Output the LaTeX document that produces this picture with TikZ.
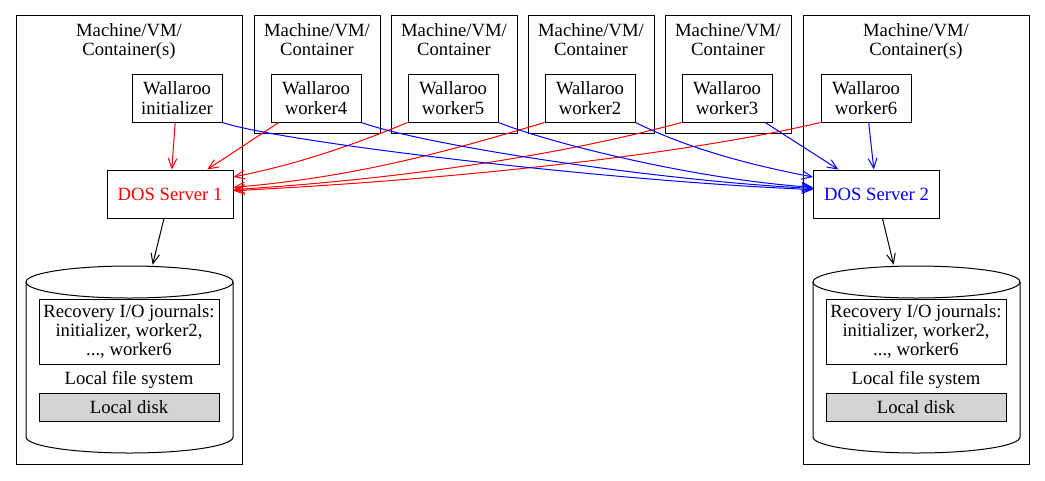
\documentclass[tikz,border=0pt]{standalone}
\usepackage{fontspec}
\setmainfont{Liberation Serif}
\usetikzlibrary{arrows.meta,positioning}

\begin{document}
\begin{tikzpicture}[
x=0.75pt, y=-0.75pt,
every node/.style={font=\fontsize{14}{14.5}\selectfont, align=center},
bigmachine/.style={draw, line width=0.75pt, minimum width=169.5pt, minimum height=336.75pt},
machine/.style={draw, line width=0.75pt, minimum width=94.5pt, minimum height=88.5pt},
worker/.style={draw, line width=0.75pt, minimum width=67.5pt, minimum height=36pt, inner sep=2pt},
server/.style={draw, line width=0.75pt, minimum width=94.5pt, minimum height=36pt},
store/.style={minimum width=155.25pt, minimum height=141pt, inner sep=0pt},
journal/.style={draw, line width=0.75pt, minimum width=135pt, minimum height=48.75pt, inner sep=1pt},
disk/.style={draw, line width=0.75pt, fill=black!17, minimum width=135pt, minimum height=21pt, inner sep=1pt},
link/.style={line width=0.75pt, -{Straight Barb[length=7.5pt,width=6.5pt]}}
]
\useasboundingbox (0,0) rectangle (1045,480);
%Machines
\node[bigmachine] (mach1) at (129,239.5) {};
\node[machine]    (mach4) at (317,74) {};
\node[machine]    (mach5) at (454,74) {};
\node[machine]    (mach2) at (591,74) {};
\node[machine]    (mach3) at (728,74) {};
\node[bigmachine] (mach6) at (916,239.5) {};
\node (lab1) [below=3pt of mach1.north] {Machine/VM/\\Container(s)};
\node (lab4) [below=3pt of mach4.north] {Machine/VM/\\Container};
\node (lab5) [below=3pt of mach5.north] {Machine/VM/\\Container};
\node (lab2) [below=3pt of mach2.north] {Machine/VM/\\Container};
\node (lab3) [below=3pt of mach3.north] {Machine/VM/\\Container};
\node (lab6) [below=3pt of mach6.north] {Machine/VM/\\Container(s)};
%Workers
\node[worker] (init) at (177,98) {Wallaroo\\initializer};
\node[worker] (w4)   at (316,98) {Wallaroo\\worker4};
\node[worker] (w5)   at (453,98) {Wallaroo\\worker5};
\node[worker] (w2)   at (590,98) {Wallaroo\\worker2};
\node[worker] (w3)   at (727,98) {Wallaroo\\worker3};
\node[worker] (w6)   at (866,98) {Wallaroo\\worker6};
%Servers
\node[server, text=red]  (dos1) at (170,194)   {DOS Server 1};
\node[server, text=blue] (dos2) at (876.5,194) {DOS Server 2};
%Storage
\node[store] (cyl1) at (129.5,359) {};
\node[store] (cyl2) at (916.5,359) {};
\foreach \cx in {129.5,916.5}{
  \draw[line width=0.75pt] (\cx,282) ellipse [x radius=103.5, y radius=16];
  \draw[line width=0.75pt] (\cx-103.5,282) -- (\cx-103.5,437)
    arc [start angle=180, end angle=0, x radius=103.5, y radius=16] -- (\cx+103.5,282);
}
\node[journal] (jour1) at (129,331.5) {Recovery I/O journals:\\initializer, worker2,\\..., worker6};
\node          (fs1)   at (129,380)   {Local file system};
\node[disk]    (disk1) at (129,407)   {Local disk};
\node[journal] (jour2) at (916,331.5) {Recovery I/O journals:\\initializer, worker2,\\..., worker6};
\node          (fs2)   at (916,380)   {Local file system};
\node[disk]    (disk2) at (916,407)   {Local disk};
%Lines
\draw[link, red] (init) -- (dos1);
\draw[link, red] (w4) -- (dos1);
\draw[link, red] (w5.south west) .. controls +(-60,25) and +(60,-12) .. (dos1.15);
\draw[link, red] (w2.south west) .. controls +(-100,30) and +(120,-10) .. (dos1.6);
\draw[link, red] (w3.south west) .. controls +(-130,35) and +(160,-10) .. (dos1.4.5);
\draw[link, red] (w6.south west) .. controls +(-150,35) and +(200,-10) .. (dos1.3.5);
\draw[link, blue] (init.south east) .. controls +(60,20) and +(-200,-8) .. (dos2.176.5);
\draw[link, blue] (w4.south east) .. controls +(60,22) and +(-160,-8) .. (dos2.175.5);
\draw[link, blue] (w5.south east) .. controls +(50,20) and +(-120,-8) .. (dos2.174);
\draw[link, blue] (w2.south east) .. controls +(40,20) and +(-80,-15) .. (dos2.165);
\draw[link, blue] (w3) -- (dos2);
\draw[link, blue] (w6) -- (dos2);
\draw[link] (dos1) -- (cyl1);
\draw[link] (dos2) -- (cyl2);
\end{tikzpicture}
\end{document}
